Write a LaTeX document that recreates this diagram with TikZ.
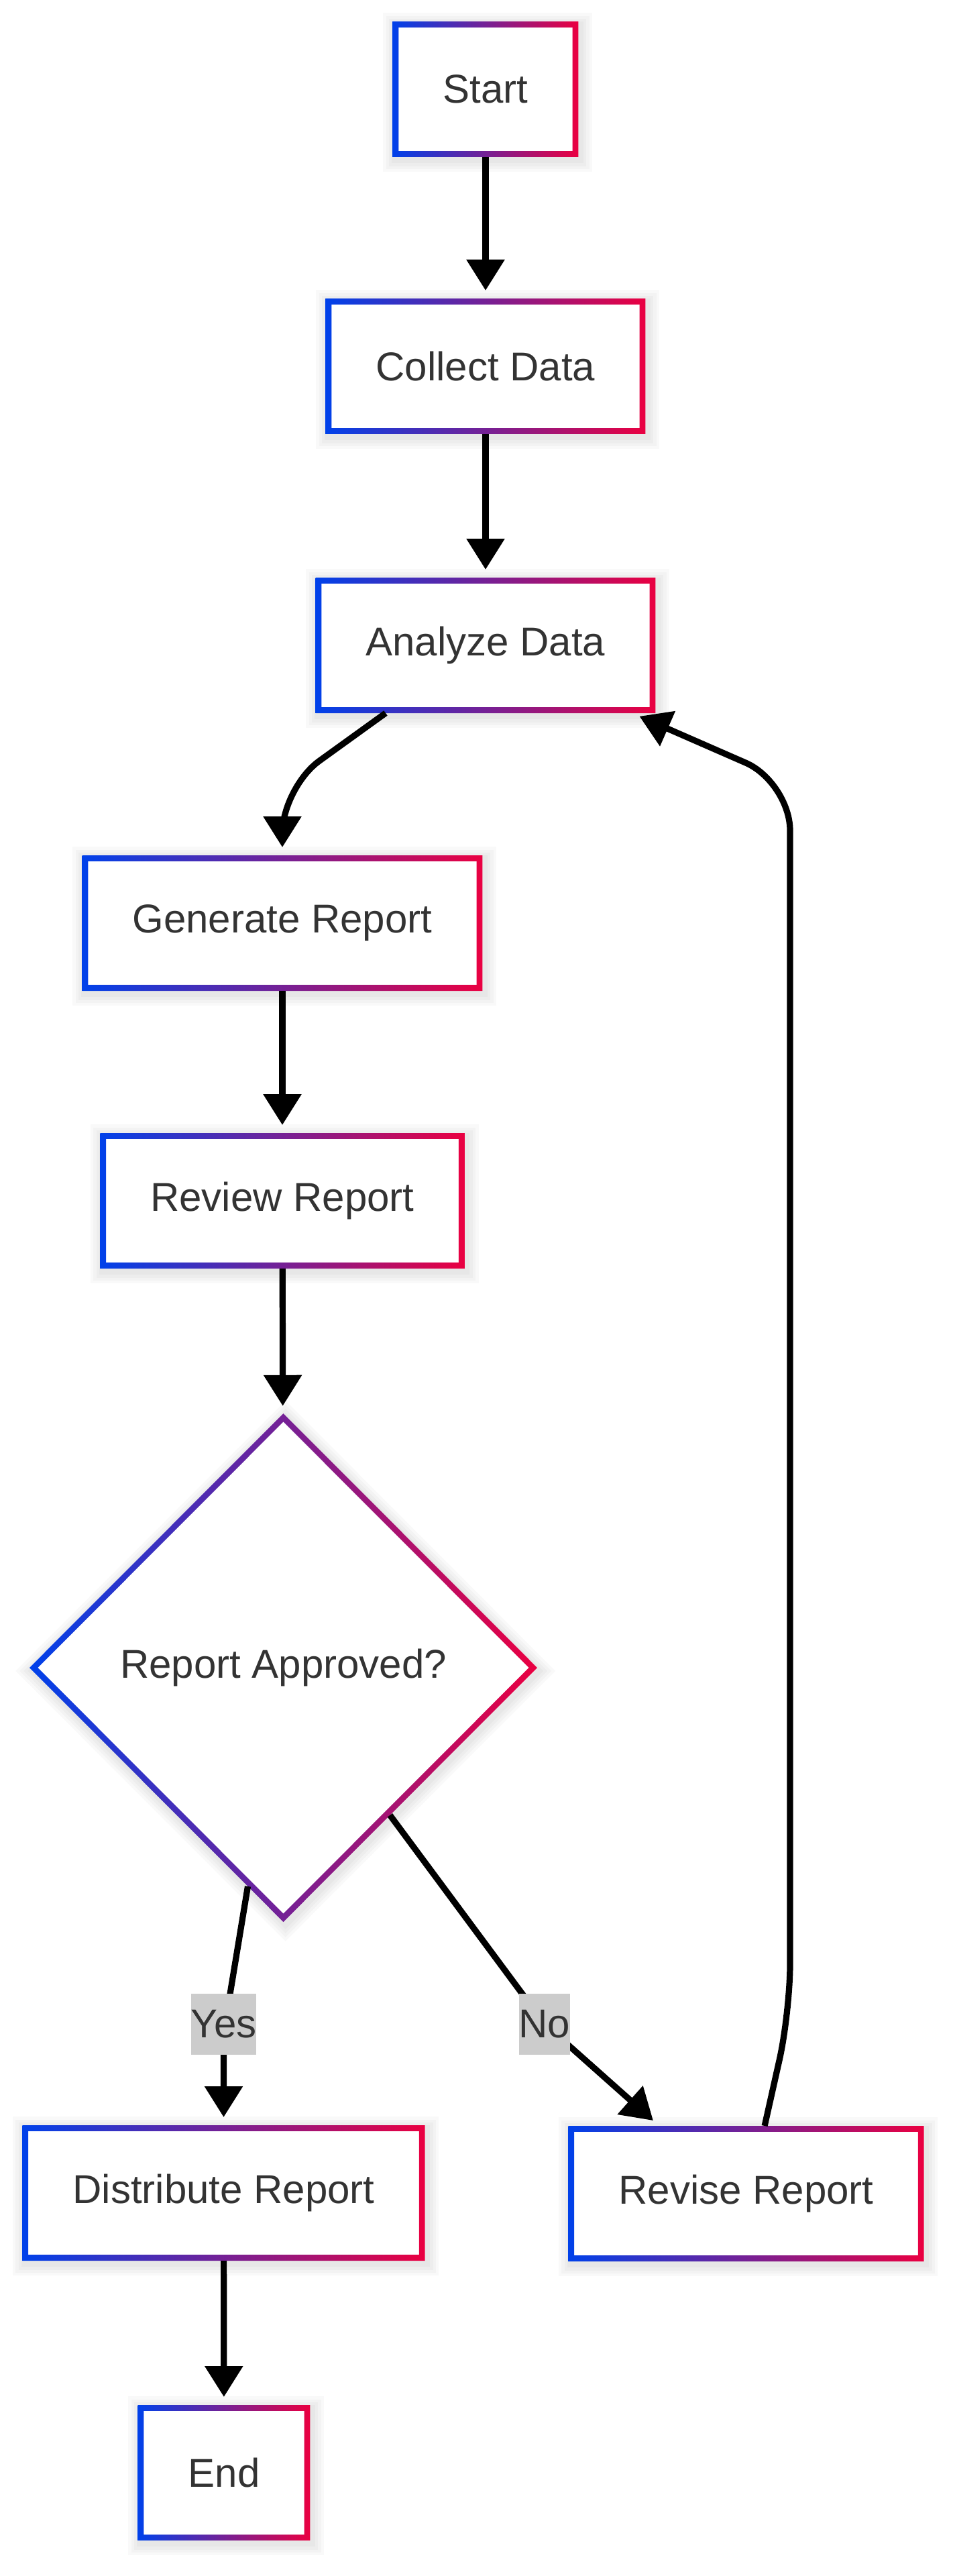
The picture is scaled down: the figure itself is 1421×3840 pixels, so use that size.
\documentclass[tikz,border=0pt]{standalone}
\usepackage{fontspec}
\setmainfont{Liberation Sans}
\usetikzlibrary{positioning,calc,arrows.meta,shapes.geometric,backgrounds}
\definecolor{txt}{HTML}{333333}
\definecolor{grL}{HTML}{0041EA}
\definecolor{grR}{HTML}{EA0041}
\definecolor{lblF}{HTML}{CCCCCC}
\definecolor{lnB}{HTML}{000000}
\definecolor{shd}{HTML}{000000}
\newcommand{\brdw}{2.2pt}
\newcommand{\brdd}{3.1pt}

\begin{document}
\begin{tikzpicture}[x=0.25pt,y=-0.25pt,font=\fontsize{15}{18}\selectfont,text=txt,
  >={Triangle[length=11.5pt,width=13.75pt]},
  stepbox/.style={rectangle,fill=white,inner xsep=18.75pt,inner ysep=0pt,minimum height=50.5pt,outer sep=0pt},
  decbox/.style={diamond,fill=white,inner sep=0pt,minimum width=189.25pt,minimum height=189.5pt,outer sep=0pt},
  lbl/.style={fill=lblF,inner xsep=0pt,inner ysep=0pt,minimum height=22.75pt,text=txt},
  flow/.style={->,draw=lnB,line width=2.3pt,shorten >=3pt}]

\useasboundingbox (0,0) rectangle (1421,3840);

\node[stepbox] (start) at (724,133) {Start};
\node[stepbox] (collect) at (724,546) {Collect Data};
\node[stepbox] (analyze) at (724,962) {Analyze Data};
\node[stepbox] (generate) at (421,1376) {Generate Report};
\node[stepbox] (review) at (421,1790) {Review Report};
\node[decbox] (dec) at (422.5,2486) {Report Approved?};
\node[stepbox] (distribute) at (333.5,3269) {Distribute Report};
\node[stepbox] (revise) at (1112.5,3270) {Revise Report};
\node[stepbox] (finish) at (334,3686) {End};

% soft shadows
\begin{scope}[on background layer]
\foreach \n in {start,collect,analyze,generate,review,distribute,revise,finish}
  \foreach \s in {1,...,4}
    \fill[shd,opacity=0.025] ([shift={(-\s*1.1pt+0.8pt,\s*1.1pt-1.2pt)}]\n.north west) rectangle ([shift={(\s*1.1pt+0.8pt,-\s*1.1pt-1.2pt)}]\n.south east);
\foreach \s in {1,...,4}
  \fill[shd,opacity=0.025] ([shift={(0.8pt,\s*1.5pt-1.2pt)}]dec.north) -- ([shift={(\s*1.5pt+0.8pt,-1.2pt)}]dec.east)
    -- ([shift={(0.8pt,-\s*1.5pt-1.2pt)}]dec.south) -- ([shift={(-\s*1.5pt+0.8pt,-1.2pt)}]dec.west) -- cycle;
\end{scope}

% gradient frames
\foreach \n in {start,collect,analyze,generate,review,distribute,revise,finish}
  \shade[left color=grL,right color=grR,even odd rule]
    (\n.north west) rectangle (\n.south east)
    ([shift={(\brdw,-\brdw)}]\n.north west) rectangle ([shift={(-\brdw,\brdw)}]\n.south east);
\shade[left color=grL,right color=grR,even odd rule]
  (dec.north) -- (dec.east) -- (dec.south) -- (dec.west) -- cycle
  ([yshift=-\brdd]dec.north) -- ([xshift=-\brdd]dec.east) -- ([yshift=\brdd]dec.south) -- ([xshift=\brdd]dec.west) -- cycle;

\coordinate (nomid) at (812,3017);
\coordinate (loopA) at (1178,3000);
\coordinate (loopB) at (1178,1166);

\draw[flow] (start) -- (collect);
\draw[flow] (collect) -- (analyze);
\draw[flow,rounded corners=17pt] ([xshift=-37.25pt]analyze.south) -- ([yshift=25.25pt]generate.north) -- (generate.north);
\draw[flow] (generate) -- (review);
\draw[flow] (review) -- (dec);
\draw[flow,rounded corners=10pt] ($(dec.south)!0.14!(dec.west)$) -- ([yshift=34.5pt]distribute.north) -- (distribute.north);
\draw[flow,rounded corners=8pt] ($(dec.south)!0.42!(dec.east)$) -- (nomid) -- ([xshift=-32.4pt]revise.north);
\draw[flow,rounded corners=18pt] ([xshift=6.9pt]revise.north) -- (loopA) -- (loopB) -- ([xshift=-8.75pt]analyze.south east);
\draw[flow] (distribute) -- (finish);

% edge labels
\node[lbl] (yes) at ([yshift=37.75pt]distribute.north) {Yes};
\node[lbl] (no) at (nomid) {No};

\end{tikzpicture}
\end{document}
